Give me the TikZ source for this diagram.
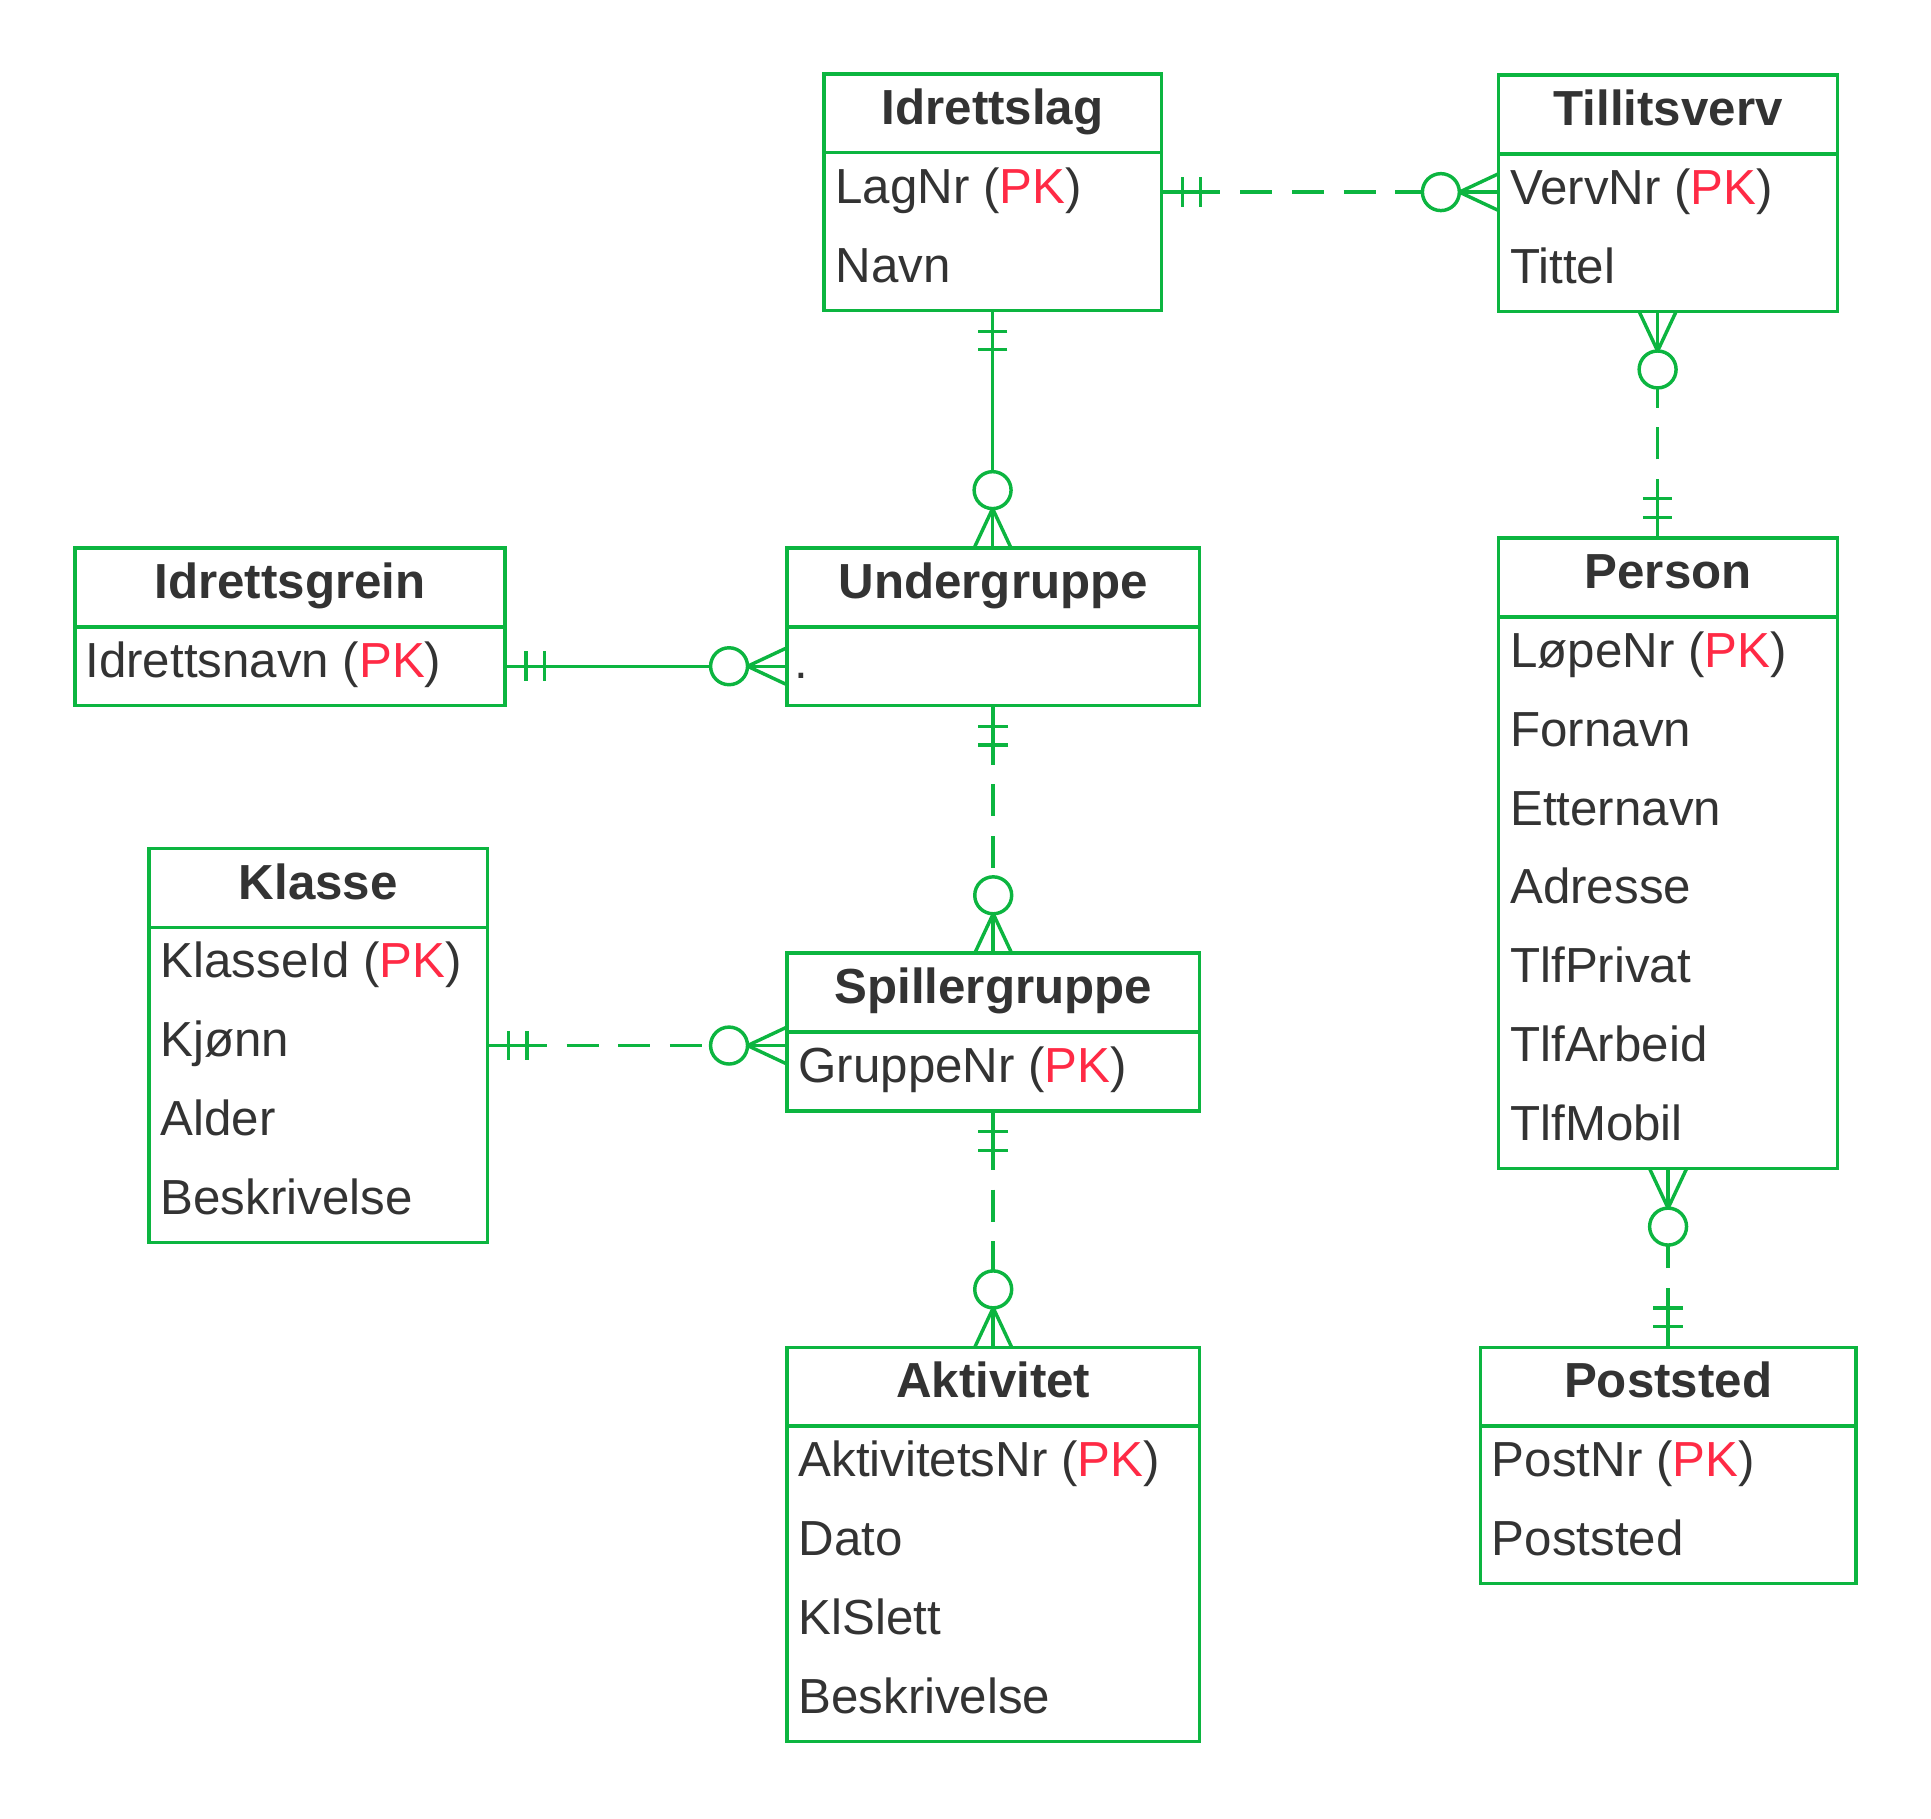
\documentclass[tikz,border=0pt]{standalone}
\usepackage{fontspec}
\setmainfont{Liberation Sans}
\usetikzlibrary{calc}
\definecolor{erg}{RGB}{12,181,64}
\definecolor{ertx}{HTML}{333333}
\definecolor{erpk}{HTML}{FF2A45}
\newcommand\pk{(\textcolor{erpk}{PK})}
\tikzset{
 gline/.style={draw=erg, line width=1.4pt},
 ebox/.style={draw=erg, line width=1.4pt, rectangle, inner sep=0pt, outer sep=0pt, anchor=north west},
 ttl/.style={anchor=base, inner sep=0pt, text=ertx, font=\fontsize{20}{24}\selectfont\bfseries},
 att/.style={anchor=base west, inner sep=0pt, text=ertx, font=\fontsize{20}{24}\selectfont},
 dsh/.style={dash pattern=on 13pt off 8pt},
 sld/.style={},
}
\newcommand\ebox[5]{\node[ebox, minimum width=#4*0.5pt, minimum height=#5*0.5pt] (#1) at (#2,#3) {};
 \draw[gline] ($(#1.north west)+(0,64)$) -- ($(#1.north east)+(0,64)$);}
\newcommand\erconn[3]{%
 \draw[gline,#3] ($(#1)!11pt!(#2)$) -- ($(#2)!31pt!(#1)$);
 \draw[gline] (#1) -- ($(#1)!22pt!(#2)$);
 \draw[gline] ($(#1)!8.5pt!(#2)!6pt!90:(#2)$) -- ($(#1)!8.5pt!(#2)!6pt!-90:(#2)$);
 \draw[gline] ($(#1)!16pt!(#2)!6pt!90:(#2)$) -- ($(#1)!16pt!(#2)!6pt!-90:(#2)$);
 \draw[gline, fill=white] ($(#2)!23.5pt!(#1)$) circle[radius=7.5pt];
 \draw[gline] ($(#2)!16pt!(#1)$) -- (#2);
 \draw[gline] ($(#2)!16pt!(#1)$) -- ($(#2)!7.5pt!90:(#1)$);
 \draw[gline] ($(#2)!16pt!(#1)$) -- ($(#2)!7.5pt!-90:(#1)$);
}
\begin{document}
\begin{tikzpicture}[x=0.5pt, y=-0.5pt]
\useasboundingbox (0,0) rectangle (1568,1477);
% boxes
\ebox{idl}{669}{60}{274}{192}
\ebox{tv}{1217}{61}{275}{192}
\ebox{ig}{61}{445}{349}{128}
\ebox{ug}{639}{445}{335}{128}
\ebox{kl}{121}{689}{275}{320}
\ebox{sg}{639}{774}{335}{128}
\ebox{akt}{639}{1094}{335}{320}
\ebox{pers}{1217}{437}{275}{512}
\ebox{ps}{1202}{1094}{305}{192}
% texts
\node[ttl] (idlT) at (806,101) {Idrettslag};
\node[att] (idl1) at (678,165) {LagNr \pk};
\node[att] (idl2) at (678,229) {Navn};
\node[ttl] (tvT) at (1354.5,102) {Tillitsverv};
\node[att] (tv1) at (1226,166) {VervNr \pk};
\node[att] (tv2) at (1226,230) {Tittel};
\node[ttl] (igT) at (235.5,486) {Idrettsgrein};
\node[att] (ig1) at (69,550) {Idrettsnavn \pk};
\node[ttl] (ugT) at (806.5,486) {Undergruppe};
\node[att] (ug1) at (645,551) {.};
\node[ttl] (klT) at (258.5,730) {Klasse};
\node[att] (kl1) at (130,794) {KlasseId \pk};
\node[att] (kl2) at (130,858) {Kjønn};
\node[att] (kl3) at (130,922) {Alder};
\node[att] (kl4) at (130,986) {Beskrivelse};
\node[ttl] (sgT) at (806.5,815) {Spillergruppe};
\node[att] (sg1) at (648,879) {GruppeNr \pk};
\node[ttl] (aktT) at (806.5,1135) {Aktivitet};
\node[att] (akt1) at (648,1199) {AktivitetsNr \pk};
\node[att] (akt2) at (648,1263) {Dato};
\node[att] (akt3) at (648,1327) {KlSlett};
\node[att] (akt4) at (648,1391) {Beskrivelse};
\node[ttl] (persT) at (1354.5,478) {Person};
\node[att] (pers1) at (1226,542) {LøpeNr \pk};
\node[att] (pers2) at (1226,606) {Fornavn};
\node[att] (pers3) at (1226,670) {Etternavn};
\node[att] (pers4) at (1226,734) {Adresse};
\node[att] (pers5) at (1226,798) {TlfPrivat};
\node[att] (pers6) at (1226,862) {TlfArbeid};
\node[att] (pers7) at (1226,926) {TlfMobil};
\node[ttl] (psT) at (1354.5,1135) {Poststed};
\node[att] (ps1) at (1211,1199) {PostNr \pk};
\node[att] (ps2) at (1211,1263) {Poststed};
% connector end points
\coordinate (a1) at (idl.east |- 0,156);
\coordinate (b1) at (tv.west |- 0,156);
\coordinate (a2) at (idl.south);
\coordinate (b2) at (ug.north -| idl.south);
\coordinate (a3) at (ig.east |- 0,541);
\coordinate (b3) at (ug.west |- 0,541);
\coordinate (a4) at (ug.south);
\coordinate (b4) at (sg.north -| ug.south);
\coordinate (a5) at (kl.east |- 0,849);
\coordinate (b5) at (sg.west |- 0,849);
\coordinate (a6) at (sg.south);
\coordinate (b6) at (akt.north -| sg.south);
\coordinate (a7) at (pers.north -| 1346,0);
\coordinate (b7) at (tv.south -| 1346,0);
\coordinate (a8) at (ps.north);
\coordinate (b8) at (pers.south -| ps.north);
% connectors
\erconn{a1}{b1}{dsh}
\erconn{a2}{b2}{sld}
\erconn{a3}{b3}{sld}
\erconn{a4}{b4}{dsh}
\erconn{a5}{b5}{dsh}
\erconn{a6}{b6}{dsh}
\erconn{a7}{b7}{dsh}
\erconn{a8}{b8}{dsh}
\end{tikzpicture}
\end{document}
